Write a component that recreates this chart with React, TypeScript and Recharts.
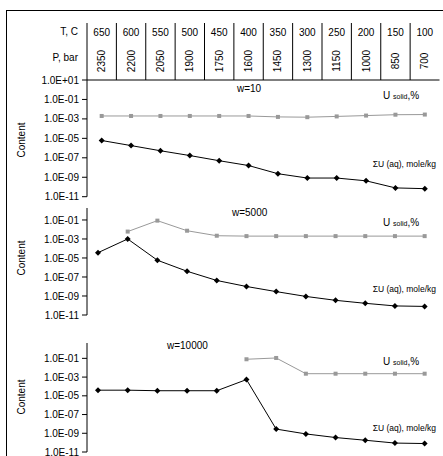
import { LineChart, Line, XAxis, YAxis } from 'recharts';

const T_LABELS = ['650', '600', '550', '500', '450', '400', '350', '300', '250', '200', '150', '100'];
const P_LABELS = ['2350', '2200', '2050', '1900', '1750', '1600', '1450', '1300', '1150', '1000', '850', '700'];
const Y_TICKS = [1e1, 1e-1, 1e-3, 1e-5, 1e-7, 1e-9, 1e-11];

// w=10
const W10_SOLID = [2e-3, 2e-3, 2e-3, 2e-3, 2e-3, 2e-3, 1.6e-3, 1.5e-3, 1.8e-3, 2.2e-3, 2.7e-3, 2.8e-3];
const W10_AQ = [6e-6, 1.8e-6, 5.3e-7, 1.7e-7, 5e-8, 1.6e-8, 2.3e-9, 8.3e-10, 8.3e-10, 4.3e-10, 8e-11, 6.7e-11];
// w=5000
const W5000_SOLID = [null, 6e-3, 8.5e-2, 7.4e-3, 2.2e-3, 2e-3, 2e-3, 2e-3, 2e-3, 2e-3, 2e-3, 2e-3];
const W5000_AQ = [3.6e-5, 1e-3, 5.8e-6, 4e-7, 4.3e-8, 1e-8, 2.9e-9, 9e-10, 3.5e-10, 1.7e-10, 9e-11, 8e-11];
// w=10000
const W10000_SOLID = [null, null, null, null, null, 8e-2, 1.1e-1, 2.3e-3, 2.3e-3, 2.3e-3, 2.3e-3, 2.3e-3];
const W10000_AQ = [4e-5, 4e-5, 3.5e-5, 3.5e-5, 3.5e-5, 5.4e-4, 2.8e-9, 8.5e-10, 3.5e-10, 1.8e-10, 9e-11, 8e-11];

const FONT = '"Liberation Sans", Arial, sans-serif';
const COL_W = 352.5 / 12;

const build = (solid: (number | null)[], aq: number[]) =>
  T_LABELS.map((t, i) => ({ i, t, p: P_LABELS[i], solid: solid[i], aq: aq[i] }));

const fmt = (v: number) => {
  const e = Math.round(Math.log10(v));
  return `1.0E${e < 0 ? '-' : '+'}${String(Math.abs(e)).padStart(2, '0')}`;
};

function Diamond(props: any) {
  const { cx, cy } = props;
  if (cx == null || cy == null || props.value == null) return null;
  return <polygon points={`${cx},${cy - 3} ${cx + 3},${cy} ${cx},${cy + 3} ${cx - 3},${cy}`} fill="#000" />;
}

function Square(props: any) {
  const { cx, cy } = props;
  if (cx == null || cy == null || props.value == null) return null;
  return <rect x={cx - 2} y={cy - 2} width={4} height={4} fill="#999" />;
}

function HeaderTick(props: any) {
  const { x, payload } = props;
  const i = payload.value;
  return (
    <g>
      <line x1={x - COL_W / 2} x2={x - COL_W / 2} y1={23} y2={80} stroke="#000" />
      <text x={x} y={36} textAnchor="middle" fontSize={10} fontFamily={FONT} fill="#000">
        {T_LABELS[i]}
      </text>
      <text
        x={0}
        y={0}
        transform={`translate(${x + 3.5},61) rotate(-90)`}
        textAnchor="middle"
        fontSize={10}
        fontFamily={FONT}
        fill="#000"
      >
        {P_LABELS[i]}
      </text>
    </g>
  );
}

function Panel(props: {
  data: any[];
  top: number;
  height: number;
  margin: { top: number; bottom: number };
  domainTop: number;
  xDomain: [number, number];
  header?: boolean;
}) {
  const { data, top, height, margin, domainTop, xDomain, header } = props;
  return (
    <div style={{ position: 'absolute', left: 0, top }}>
      <LineChart width={443} height={height} data={data} margin={{ top: margin.top, bottom: margin.bottom, left: 0, right: 3.5 }}>
        <XAxis
          dataKey="i"
          type="number"
          domain={xDomain}
          ticks={[0, 1, 2, 3, 4, 5, 6, 7, 8, 9, 10, 11]}
          orientation="top"
          height={header ? 57 : 0}
          hide={!header}
          axisLine={{ stroke: '#000' }}
          tickLine={false}
          tick={<HeaderTick />}
          interval={0}
        />
        <YAxis
          scale="log"
          domain={[1e-11, domainTop]}
          allowDataOverflow
          ticks={Y_TICKS.filter((t) => t <= domainTop)}
          tickFormatter={fmt}
          width={87}
          tickSize={5}
          tickMargin={3}
          axisLine={{ stroke: '#000' }}
          tickLine={{ stroke: '#000' }}
          tick={{ fontSize: 10, fill: '#000', fontFamily: FONT }}
          interval={0}
        />
        <Line dataKey="solid" stroke="#999" strokeWidth={1} dot={<Square />} isAnimationActive={false} connectNulls={false} />
        <Line dataKey="aq" stroke="#000" strokeWidth={1} dot={<Diamond />} isAnimationActive={false} />
      </LineChart>
    </div>
  );
}

const labelStyle: React.CSSProperties = {
  position: 'absolute',
  fontSize: 10,
  fontFamily: FONT,
  color: '#000',
  whiteSpace: 'nowrap',
  lineHeight: 1,
};

function USolid({ top }: { top: number }) {
  return (
    <div style={{ ...labelStyle, left: 383, top }}>
      U <span style={{ fontSize: 7 }}>solid</span>,%
    </div>
  );
}

function AqLabel({ top }: { top: number }) {
  return <div style={{ ...labelStyle, fontSize: 8.5, right: 7, top }}>ΣU (aq), mole/kg</div>;
}

function Content({ cy }: { cy: number }) {
  return (
    <div
      style={{
        ...labelStyle,
        left: 22,
        top: cy,
        transform: 'translate(-50%, -50%) rotate(-90deg)',
      }}
    >
      Content
    </div>
  );
}

export default function App() {
  return (
    <div style={{ position: 'absolute', left: 0, top: 0, width: 443, height: 456, overflow: 'hidden', background: '#fff' }}>
      <div style={{ position: 'absolute', left: 6, top: 10, width: 500, height: 500, borderLeft: '1px solid #000', borderTop: '1px solid #000' }} />
      <div style={{ ...labelStyle, right: 443 - 78, top: 27 }}>T, C</div>
      <div style={{ ...labelStyle, right: 443 - 78, top: 53 }}>P, bar</div>

      <Panel data={build(W10_SOLID, W10_AQ)} top={0} height={210} margin={{ top: 23, bottom: 13.3 }} domainTop={1e1} xDomain={[-0.5, 11.5]} header />
      <Panel data={build(W5000_SOLID, W5000_AQ)} top={200} height={130} margin={{ top: 8, bottom: 15 }} domainTop={Math.pow(10, 0.26)} xDomain={[-0.37, 11.5]} />
      <Panel data={build(W10000_SOLID, W10000_AQ)} top={335} height={125} margin={{ top: 8, bottom: 8 }} domainTop={Math.pow(10, 0.64)} xDomain={[-0.37, 11.5]} />

      <div style={{ ...labelStyle, left: 237, top: 84 }}>w=10</div>
      <USolid top={91} />
      <AqLabel top={160} />
      <Content cy={140} />

      <div style={{ ...labelStyle, left: 232, top: 208 }}>w=5000</div>
      <USolid top={218} />
      <AqLabel top={285} />
      <Content cy={258} />

      <div style={{ ...labelStyle, left: 167, top: 341 }}>w=10000</div>
      <USolid top={357} />
      <AqLabel top={424} />
      <Content cy={397} />
    </div>
  );
}
